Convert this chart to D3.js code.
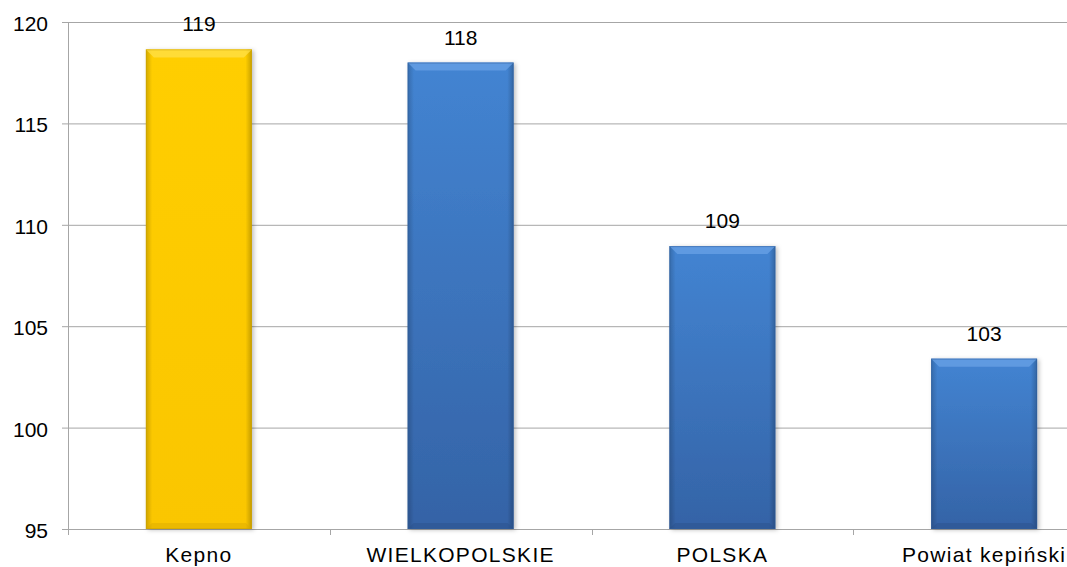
<!DOCTYPE html>
<html>
<head>
<meta charset="utf-8">
<script src="https://cdn.jsdelivr.net/npm/d3@7"></script>
<style>
  html, body { margin: 0; padding: 0; background: #fff; }
  svg { display: block; font-family: "Liberation Sans", Arial, sans-serif; }
</style>
</head>
<body>
<svg id="chart" width="1067" height="567"></svg>
<script>
// Data
var categories = ['Kepno', 'WIELKOPOLSKIE', 'POLSKA', 'Powiat kepiński'];
var values = [118.65, 118.0, 108.95, 103.4];
var labels = ['119', '118', '109', '103'];
var yTicks = [95, 100, 105, 110, 115, 120];

var W = 1067, H = 567;
var svg = d3.select('#chart');
var defs = svg.append('defs');

// x scale runs past the right edge, like the source crop
var x = d3.scaleBand().domain(categories).range([68, 1115]).paddingInner(0.595).paddingOuter(0.2975);
var y = d3.scaleLinear().domain([95, 120]).range([529, 22]);

// gradients for the bevelled look
function makeGrad(id, top, bottom) {
    var g = defs.append('linearGradient').attr('id', id).attr('x1', 0).attr('y1', 0).attr('x2', 0).attr('y2', 1);
    g.append('stop').attr('offset', '0%').attr('stop-color', top);
    g.append('stop').attr('offset', '100%').attr('stop-color', bottom);
}
makeGrad('g-yellow', '#FFCE05', '#FAC600');
makeGrad('g-blue', '#4384D2', '#3463A6');

var sideGrad = defs.append('linearGradient').attr('id', 'g-side').attr('x1', 0).attr('x2', 1);
sideGrad.append('stop').attr('offset', '0%').attr('stop-color', '#000').attr('stop-opacity', 0.18);
sideGrad.append('stop').attr('offset', '6%').attr('stop-color', '#000').attr('stop-opacity', 0);
sideGrad.append('stop').attr('offset', '94%').attr('stop-color', '#000').attr('stop-opacity', 0);
sideGrad.append('stop').attr('offset', '100%').attr('stop-color', '#000').attr('stop-opacity', 0.22);

defs.append('filter').attr('id', 'shadow').attr('x', '-10%').attr('y', '-10%').attr('width', '130%').attr('height', '130%')
    .append('feDropShadow').attr('dx', 2).attr('dy', 1).attr('stdDeviation', 2).attr('flood-color', '#000').attr('flood-opacity', 0.25);

// gridlines
svg.append('g').selectAll('line').data(yTicks).enter().append('line')
    .attr('x1', 62).attr('x2', W)
    .attr('y1', d => y(d) + 0.5).attr('y2', d => y(d) + 0.5)
    .attr('stroke', '#A6A6A6').attr('stroke-width', 1);

// y axis line
svg.append('line').attr('x1', 68.5).attr('x2', 68.5).attr('y1', y(120)).attr('y2', y(95) + 6)
    .attr('stroke', '#A6A6A6');

// y tick labels
svg.append('g').selectAll('text').data(yTicks).enter().append('text')
    .attr('x', 48).attr('y', d => y(d) + 9)
    .attr('text-anchor', 'end').attr('font-size', 21).attr('fill', '#000')
    .text(d => d);

// category ticks between bands
svg.append('g').selectAll('line').data(categories.slice(1)).enter().append('line')
    .attr('x1', d => Math.round(x(d) - x.step() * x.paddingInner() / 2) + 0.5)
    .attr('x2', d => Math.round(x(d) - x.step() * x.paddingInner() / 2) + 0.5)
    .attr('y1', y(95)).attr('y2', y(95) + 6)
    .attr('stroke', '#A6A6A6');

// bars
var bars = svg.append('g').selectAll('g').data(categories).enter().append('g');
bars.each(function(c, i) {
    var g = d3.select(this);
    var bx = x(c), bw = x.bandwidth(), by = y(values[i]), bh = y(95) - by;
    var isYellow = i === 0;
    g.append('rect').attr('x', bx).attr('y', by).attr('width', bw).attr('height', bh)
        .attr('fill', isYellow ? 'url(#g-yellow)' : 'url(#g-blue)').attr('filter', 'url(#shadow)');
    g.append('rect').attr('x', bx).attr('y', by).attr('width', bw).attr('height', bh)
        .attr('fill', 'url(#g-side)');
    // top bevel
    var b = 8;
    g.append('path')
        .attr('d', `M${bx},${by} L${bx + bw},${by} L${bx + bw - b},${by + b} L${bx + b},${by + b} Z`)
        .attr('fill', isYellow ? '#FFE04A' : '#6AA2E6').attr('opacity', 0.75);
    // bottom bevel
    g.append('path')
        .attr('d', `M${bx},${by + bh} L${bx + bw},${by + bh} L${bx + bw - 6},${by + bh - 6} L${bx + 6},${by + bh - 6} Z`)
        .attr('fill', isYellow ? '#D9A800' : '#2A5089').attr('opacity', 0.45);
    g.append('rect').attr('x', bx + 0.5).attr('y', by + 0.5).attr('width', bw - 1).attr('height', bh - 1)
        .attr('fill', 'none').attr('stroke', isYellow ? '#C9A000' : '#2F5D9B').attr('stroke-opacity', 0.5);
    // value label
    g.append('text').attr('x', bx + bw / 2).attr('y', by - 18)
        .attr('text-anchor', 'middle').attr('font-size', 21).attr('fill', '#000')
        .text(labels[i]);
});

// category labels
svg.append('g').selectAll('text').data(categories).enter().append('text')
    .attr('x', d => x(d) + x.bandwidth() / 2).attr('y', 562)
    .attr('text-anchor', 'middle').attr('font-size', 21).attr('letter-spacing', 1.3).attr('fill', '#000')
    .text(d => d);
</script>
</body>
</html>
